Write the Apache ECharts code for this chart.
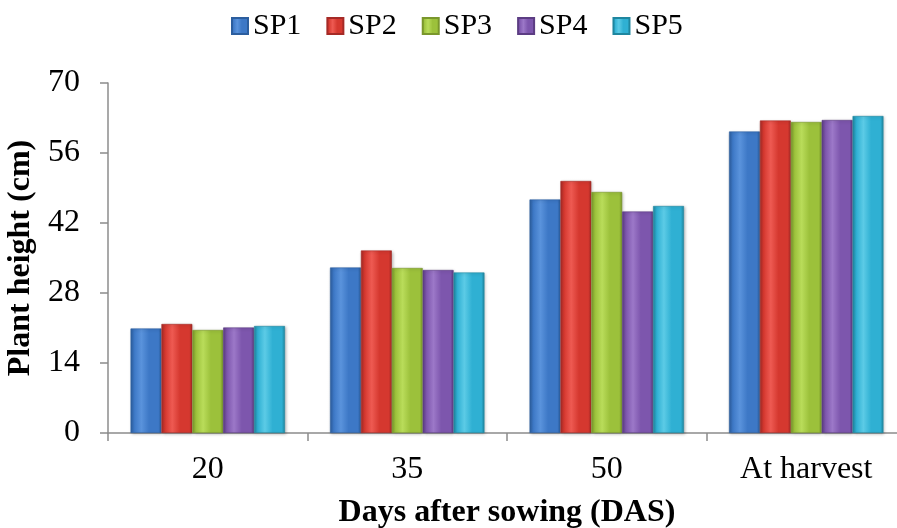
<!DOCTYPE html>
<html>
<head>
<meta charset="utf-8">
<script src="https://cdn.jsdelivr.net/npm/echarts@6/dist/echarts.min.js"></script>
<style>
  html, body { margin: 0; padding: 0; background: #ffffff; }
  #chart { width: 897px; height: 528px; }
</style>
</head>
<body>
<div id="chart"></div>
<script>
// Plant height (cm) at each sampling stage, per treatment
const categories = ['20', '35', '50', 'At harvest'];
const SP1 = [20.9, 33.1, 46.7, 60.3];
const SP2 = [21.8, 36.5, 50.4, 62.5];
const SP3 = [20.6, 33.0, 48.2, 62.2];
const SP4 = [21.1, 32.6, 44.3, 62.6];
const SP5 = [21.4, 32.1, 45.4, 63.4];
const seriesNames = ['SP1', 'SP2', 'SP3', 'SP4', 'SP5'];
const yTicks = { min: 0, max: 70, interval: 14 };

const FONT = '"Liberation Serif", "Times New Roman", serif';

// [edge, highlight, mid] tones for the glassy column look
const palette = [
  ['#2c5e9e', '#5a93dc', '#3d78c6'],
  ['#a52a26', '#ee5a52', '#d5382f'],
  ['#7a972c', '#b9dc5a', '#9cc13b'],
  ['#5c3d83', '#9c78c8', '#7d56ad'],
  ['#1f869f', '#5ccbe6', '#2fb0d3']
];

function shade(c) {
  return new echarts.graphic.LinearGradient(0, 0, 1, 0, [
    { offset: 0, color: c[0] },
    { offset: 0.12, color: c[2] },
    { offset: 0.35, color: c[1] },
    { offset: 0.6, color: c[2] },
    { offset: 0.9, color: c[2] },
    { offset: 1, color: c[0] }
  ]);
}

const values = [SP1, SP2, SP3, SP4, SP5];

const chart = echarts.init(document.getElementById('chart'), null, { renderer: 'canvas' });

chart.setOption({
  animation: false,
  backgroundColor: '#ffffff',
  textStyle: { fontFamily: FONT },
  legend: {
    top: 6,
    left: 226,
    itemWidth: 16,
    itemHeight: 16,
    itemGap: 25,
    icon: 'rect',
    textStyle: { fontFamily: FONT, fontSize: 30, color: '#000' },
    data: seriesNames
  },
  grid: {
    left: 108, top: 83, width: 798, height: 350,
    containLabel: false,
    outerBoundsMode: 'none'
  },
  xAxis: {
    type: 'category',
    data: categories,
    axisLine: { lineStyle: { color: '#8c8c8c', width: 1.5 } },
    axisTick: { show: true, length: 8, lineStyle: { color: '#8c8c8c', width: 1.5 } },
    axisLabel: { fontFamily: FONT, fontSize: 32, color: '#000', margin: 21 },
    name: 'Days after sowing (DAS)',
    nameLocation: 'middle',
    nameGap: 64,
    nameTextStyle: { fontFamily: FONT, fontSize: 32, fontWeight: 'bold', color: '#000' }
  },
  yAxis: {
    type: 'value',
    min: yTicks.min,
    max: yTicks.max,
    interval: yTicks.interval,
    splitLine: { show: false },
    axisLine: { show: true, lineStyle: { color: '#8c8c8c', width: 1.5 } },
    axisTick: { show: true, length: 8, lineStyle: { color: '#8c8c8c', width: 1.5 } },
    axisLabel: { fontFamily: FONT, fontSize: 32, color: '#000', margin: 28 },
    name: 'Plant height (cm)',
    nameLocation: 'middle',
    nameRotate: 90,
    nameGap: 69,
    nameTextStyle: { fontFamily: FONT, fontSize: 32, fontWeight: 'bold', color: '#000' }
  },
  series: seriesNames.map((name, i) => ({
    name: name,
    type: 'bar',
    data: values[i],
    barGap: '0%',
    barCategoryGap: '22.6%',
    itemStyle: {
      color: shade(palette[i]),
      borderColor: palette[i][0],
      borderWidth: 0.6,
      shadowBlur: 3,
      shadowOffsetX: 1,
      shadowOffsetY: 1,
      shadowColor: 'rgba(0,0,0,0.25)'
    }
  }))
});
</script>
</body>
</html>
